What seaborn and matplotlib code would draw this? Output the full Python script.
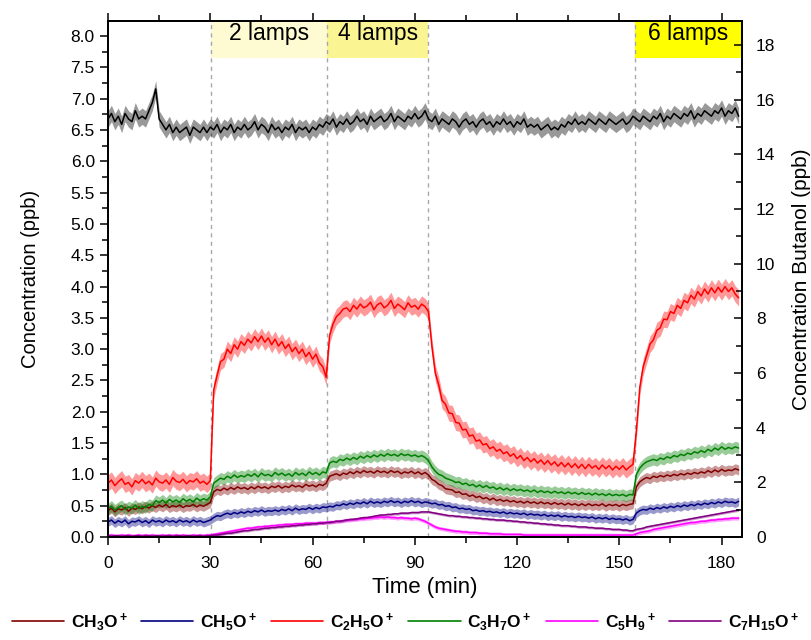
import numpy as np
import matplotlib
matplotlib.use("Agg")
import matplotlib.pyplot as plt
from matplotlib.ticker import MultipleLocator, FormatStrFormatter
import seaborn as sns

# time axis, one reading per minute
time_min = np.arange(0, 186)

# CH3O+ (ppb, left axis)
ch3o = [
    0.42, 0.46, 0.40, 0.45, 0.43, 0.47, 0.41, 0.46, 0.44, 0.48,
    0.45, 0.49, 0.46, 0.50, 0.47, 0.51, 0.48, 0.52, 0.47, 0.50,
    0.48, 0.51, 0.47, 0.50, 0.49, 0.52, 0.48, 0.51, 0.49, 0.52,
    0.55, 0.72, 0.76, 0.74, 0.78, 0.75, 0.79, 0.76, 0.80, 0.77,
    0.79, 0.76, 0.80, 0.77, 0.81, 0.78, 0.80, 0.77, 0.81, 0.79,
    0.82, 0.78, 0.81, 0.79, 0.83, 0.80, 0.82, 0.79, 0.84, 0.81,
    0.83, 0.80, 0.84, 0.82, 0.86, 0.97, 0.99, 1.01, 0.98, 1.02,
    1.00, 1.04, 1.01, 1.05, 1.02, 1.06, 1.03, 1.05, 1.02, 1.06,
    1.03, 1.05, 1.02, 1.06, 1.03, 1.05, 1.01, 1.04, 1.02, 1.05,
    1.01, 1.04, 1.00, 1.03, 0.99, 0.92, 0.89, 0.84, 0.82, 0.77,
    0.76, 0.75, 0.71, 0.72, 0.68, 0.69, 0.65, 0.67, 0.63, 0.65,
    0.61, 0.63, 0.59, 0.62, 0.58, 0.60, 0.57, 0.59, 0.56, 0.58,
    0.55, 0.57, 0.54, 0.57, 0.54, 0.56, 0.53, 0.56, 0.53, 0.55,
    0.52, 0.55, 0.52, 0.54, 0.51, 0.54, 0.51, 0.53, 0.50, 0.53,
    0.50, 0.53, 0.50, 0.52, 0.50, 0.53, 0.49, 0.52, 0.50, 0.52,
    0.49, 0.52, 0.50, 0.52, 0.53, 0.80, 0.88, 0.92, 0.95, 0.93,
    0.97, 0.95, 0.98, 0.96, 0.99, 0.97, 1.00, 0.98, 1.01, 0.99,
    1.02, 1.00, 1.03, 1.01, 1.04, 1.02, 1.06, 1.03, 1.07, 1.04,
    1.08, 1.05, 1.07, 1.06, 1.09, 1.07,
]

# CH5O+
ch5o = [
    0.24, 0.27, 0.22, 0.26, 0.23, 0.27, 0.21, 0.25, 0.24, 0.27,
    0.23, 0.26, 0.22, 0.27, 0.24, 0.26, 0.23, 0.27, 0.24, 0.26,
    0.23, 0.27, 0.24, 0.26, 0.23, 0.27, 0.24, 0.26, 0.23, 0.25,
    0.27, 0.31, 0.34, 0.33, 0.36, 0.38, 0.36, 0.39, 0.37, 0.40,
    0.38, 0.41, 0.39, 0.42, 0.40, 0.43, 0.40, 0.42, 0.41, 0.43,
    0.41, 0.44, 0.42, 0.45, 0.42, 0.46, 0.43, 0.45, 0.44, 0.47,
    0.44, 0.47, 0.45, 0.48, 0.47, 0.49, 0.48, 0.51, 0.50, 0.53,
    0.51, 0.54, 0.52, 0.55, 0.53, 0.56, 0.53, 0.57, 0.54, 0.56,
    0.54, 0.57, 0.55, 0.58, 0.55, 0.57, 0.54, 0.57, 0.55, 0.58,
    0.55, 0.57, 0.54, 0.56, 0.55, 0.53, 0.54, 0.51, 0.52, 0.49,
    0.50, 0.47, 0.48, 0.45, 0.46, 0.44, 0.45, 0.42, 0.43, 0.41,
    0.42, 0.40, 0.41, 0.39, 0.40, 0.38, 0.40, 0.37, 0.39, 0.37,
    0.38, 0.36, 0.38, 0.35, 0.37, 0.35, 0.36, 0.34, 0.36, 0.33,
    0.35, 0.33, 0.35, 0.32, 0.34, 0.32, 0.33, 0.31, 0.33, 0.31,
    0.32, 0.30, 0.32, 0.29, 0.31, 0.29, 0.31, 0.28, 0.30, 0.28,
    0.29, 0.27, 0.29, 0.26, 0.28, 0.38, 0.42, 0.44, 0.43, 0.46,
    0.44, 0.47, 0.45, 0.48, 0.46, 0.49, 0.47, 0.50, 0.48, 0.51,
    0.49, 0.52, 0.50, 0.53, 0.51, 0.54, 0.52, 0.55, 0.53, 0.56,
    0.54, 0.57, 0.55, 0.56, 0.54, 0.57,
]

# C2H5O+
c2h5o = [
    0.86, 0.91, 0.82, 0.88, 0.93, 0.84, 0.87, 0.80, 0.90, 0.86,
    0.92, 0.85, 0.89, 0.83, 0.94, 0.88, 0.86, 0.91, 0.84, 0.95,
    0.89, 0.87, 0.92, 0.85, 0.90, 0.88, 0.93, 0.86, 0.89, 0.84,
    0.90, 2.35, 2.58, 2.80, 2.84, 3.00, 2.93, 3.07, 3.00, 3.12,
    3.06, 3.16, 3.10, 3.20, 3.12, 3.21, 3.11, 3.18, 3.07, 3.16,
    3.05, 3.12, 3.01, 3.08, 2.96, 3.03, 2.93, 3.00, 2.88, 2.95,
    2.84, 2.92, 2.78, 2.72, 2.55, 3.22, 3.40, 3.52, 3.57, 3.64,
    3.66, 3.60, 3.70, 3.64, 3.72, 3.66, 3.69, 3.75, 3.63, 3.71,
    3.74, 3.66, 3.70, 3.78, 3.65, 3.72, 3.68, 3.63, 3.74, 3.67,
    3.70, 3.64, 3.72, 3.68, 3.60, 3.05, 2.62, 2.43, 2.18, 2.12,
    1.98, 1.97, 1.83, 1.82, 1.71, 1.72, 1.61, 1.63, 1.53, 1.55,
    1.47, 1.49, 1.41, 1.44, 1.37, 1.40, 1.33, 1.36, 1.29, 1.33,
    1.25, 1.30, 1.22, 1.27, 1.20, 1.25, 1.18, 1.23, 1.16, 1.22,
    1.15, 1.20, 1.13, 1.19, 1.12, 1.18, 1.11, 1.17, 1.10, 1.16,
    1.09, 1.16, 1.10, 1.14, 1.08, 1.15, 1.09, 1.14, 1.07, 1.13,
    1.08, 1.14, 1.07, 1.12, 1.16, 1.70, 2.39, 2.72, 2.90, 3.08,
    3.15, 3.30, 3.34, 3.48, 3.47, 3.60, 3.57, 3.70, 3.65, 3.78,
    3.74, 3.86, 3.80, 3.92, 3.85, 3.96, 3.88, 3.98, 3.90, 3.99,
    3.91, 4.00, 3.92, 3.98, 3.88, 3.82,
]

# C3H7O+
c3h7o = [
    0.45, 0.49, 0.43, 0.47, 0.50, 0.44, 0.48, 0.46, 0.51, 0.45,
    0.49, 0.47, 0.52, 0.50, 0.58, 0.55, 0.59, 0.54, 0.60, 0.56,
    0.59, 0.55, 0.61, 0.57, 0.60, 0.56, 0.62, 0.58, 0.61, 0.59,
    0.64, 0.86, 0.90, 0.94, 0.92, 0.97, 0.94, 0.99, 0.95, 0.98,
    0.96, 1.00, 0.97, 1.01, 0.96, 1.02, 0.98, 1.00, 0.97, 1.03,
    0.99, 1.02, 0.98, 1.01, 0.97, 1.03, 0.99, 1.02, 0.98, 1.04,
    1.00, 1.03, 0.99, 1.04, 1.02, 1.18, 1.21, 1.19, 1.24, 1.22,
    1.26, 1.23, 1.27, 1.24, 1.29, 1.26, 1.30, 1.27, 1.31, 1.28,
    1.32, 1.29, 1.33, 1.30, 1.32, 1.29, 1.33, 1.30, 1.32, 1.29,
    1.31, 1.28, 1.30, 1.27, 1.22, 1.12, 1.05, 1.00, 0.98, 0.94,
    0.92, 0.90, 0.87, 0.88, 0.84, 0.86, 0.82, 0.84, 0.80, 0.83,
    0.79, 0.82, 0.78, 0.80, 0.76, 0.79, 0.75, 0.78, 0.74, 0.77,
    0.74, 0.76, 0.73, 0.75, 0.72, 0.75, 0.71, 0.74, 0.71, 0.73,
    0.70, 0.73, 0.70, 0.72, 0.69, 0.72, 0.69, 0.71, 0.68, 0.71,
    0.68, 0.70, 0.67, 0.70, 0.67, 0.69, 0.66, 0.69, 0.66, 0.68,
    0.66, 0.68, 0.65, 0.68, 0.67, 1.00, 1.10, 1.16, 1.20, 1.22,
    1.24, 1.22, 1.26, 1.24, 1.28, 1.26, 1.30, 1.28, 1.32, 1.30,
    1.34, 1.32, 1.36, 1.34, 1.38, 1.35, 1.40, 1.37, 1.42, 1.39,
    1.44, 1.40, 1.43, 1.41, 1.44, 1.42,
]

# C5H9+
c5h9 = [
    0.02, 0.03, 0.02, 0.02, 0.03, 0.02, 0.03, 0.02, 0.02, 0.03,
    0.02, 0.03, 0.02, 0.03, 0.02, 0.02, 0.03, 0.02, 0.03, 0.02,
    0.03, 0.02, 0.03, 0.02, 0.02, 0.03, 0.02, 0.03, 0.02, 0.03,
    0.03, 0.04, 0.05, 0.06, 0.07, 0.08, 0.09, 0.10, 0.11, 0.12,
    0.13, 0.14, 0.14, 0.15, 0.16, 0.16, 0.17, 0.17, 0.18, 0.18,
    0.19, 0.19, 0.20, 0.20, 0.20, 0.21, 0.21, 0.21, 0.22, 0.22,
    0.22, 0.22, 0.23, 0.23, 0.23, 0.24, 0.24, 0.25, 0.25, 0.26,
    0.27, 0.27, 0.28, 0.28, 0.29, 0.29, 0.30, 0.30, 0.31, 0.31,
    0.32, 0.31, 0.32, 0.31, 0.31, 0.30, 0.31, 0.30, 0.30, 0.29,
    0.30, 0.29, 0.27, 0.25, 0.22, 0.19, 0.16, 0.14, 0.13, 0.12,
    0.11, 0.10, 0.09, 0.09, 0.08, 0.08, 0.07, 0.07, 0.07, 0.06,
    0.06, 0.06, 0.05, 0.05, 0.05, 0.05, 0.04, 0.04, 0.04, 0.04,
    0.04, 0.04, 0.03, 0.03, 0.03, 0.03, 0.03, 0.03, 0.03, 0.03,
    0.03, 0.03, 0.03, 0.03, 0.03, 0.03, 0.03, 0.03, 0.03, 0.03,
    0.03, 0.03, 0.03, 0.03, 0.03, 0.03, 0.03, 0.03, 0.03, 0.03,
    0.03, 0.03, 0.03, 0.03, 0.03, 0.05, 0.07, 0.08, 0.09, 0.10,
    0.12, 0.13, 0.14, 0.15, 0.16, 0.17, 0.18, 0.19, 0.20, 0.21,
    0.22, 0.23, 0.23, 0.24, 0.25, 0.25, 0.26, 0.27, 0.27, 0.28,
    0.28, 0.29, 0.29, 0.30, 0.30, 0.30,
]

# C7H15O+
c7h15o = [
    0.02, 0.01, 0.02, 0.02, 0.01, 0.02, 0.02, 0.01, 0.02, 0.02,
    0.01, 0.02, 0.02, 0.01, 0.02, 0.02, 0.01, 0.02, 0.02, 0.01,
    0.02, 0.02, 0.01, 0.02, 0.02, 0.01, 0.02, 0.02, 0.01, 0.02,
    0.02, 0.03, 0.03, 0.04, 0.05, 0.06, 0.06, 0.07, 0.08, 0.09,
    0.10, 0.10, 0.11, 0.12, 0.12, 0.13, 0.14, 0.14, 0.15, 0.15,
    0.16, 0.16, 0.17, 0.17, 0.18, 0.18, 0.19, 0.19, 0.20, 0.20,
    0.21, 0.21, 0.22, 0.22, 0.23, 0.23, 0.24, 0.25, 0.25, 0.26,
    0.27, 0.28, 0.28, 0.29, 0.30, 0.31, 0.31, 0.32, 0.33, 0.34,
    0.35, 0.35, 0.36, 0.36, 0.37, 0.37, 0.38, 0.38, 0.38, 0.39,
    0.39, 0.39, 0.40, 0.40, 0.40, 0.39, 0.38, 0.37, 0.36, 0.35,
    0.34, 0.34, 0.33, 0.33, 0.32, 0.32, 0.31, 0.31, 0.30, 0.30,
    0.29, 0.29, 0.28, 0.28, 0.27, 0.27, 0.27, 0.26, 0.26, 0.25,
    0.25, 0.24, 0.24, 0.23, 0.23, 0.22, 0.22, 0.21, 0.21, 0.20,
    0.20, 0.19, 0.19, 0.18, 0.18, 0.18, 0.17, 0.17, 0.16, 0.16,
    0.16, 0.15, 0.15, 0.14, 0.14, 0.14, 0.13, 0.13, 0.12, 0.12,
    0.12, 0.11, 0.11, 0.10, 0.10, 0.12, 0.13, 0.14, 0.16, 0.17,
    0.18, 0.19, 0.20, 0.21, 0.22, 0.23, 0.24, 0.25, 0.26, 0.27,
    0.28, 0.29, 0.30, 0.31, 0.32, 0.33, 0.34, 0.35, 0.36, 0.37,
    0.38, 0.39, 0.40, 0.41, 0.42, 0.43,
]

# butanol (ppb, right axis)
butanol = [
    15.3, 15.5, 15.2, 15.4, 15.1, 15.5, 15.3, 15.2, 15.6, 15.3,
    15.4, 15.3, 15.6, 15.9, 16.4, 15.3, 15.1, 14.9, 15.1, 14.8,
    15.0, 14.8, 14.9, 15.0, 14.7, 15.0, 14.9, 14.8, 15.0, 14.8,
    15.0, 14.9, 15.1, 14.8, 15.0, 14.9, 15.1, 14.8, 15.0, 14.9,
    15.1, 14.9, 15.0, 15.2, 14.9, 15.1, 15.0, 14.8, 15.1, 14.9,
    15.0, 14.8, 15.0, 14.9, 15.1, 14.8, 15.0, 14.9, 15.0, 14.8,
    15.0, 14.9, 15.1, 15.0, 15.2, 15.1, 15.3, 15.0, 15.2, 15.1,
    15.3, 15.1, 15.2, 15.4, 15.2, 15.3, 15.1, 15.4, 15.2, 15.3,
    15.4, 15.2, 15.3, 15.5, 15.2, 15.4, 15.3, 15.2, 15.4, 15.3,
    15.5, 15.3, 15.4, 15.6, 15.3, 15.2, 15.4, 15.1, 15.3, 15.2,
    15.1, 15.3, 15.2, 15.0, 15.2, 15.3, 15.1, 15.2, 15.0, 15.2,
    15.3, 15.1, 15.2, 15.0, 15.2, 15.1, 15.3, 15.1, 15.2, 15.0,
    15.2, 15.1, 15.3, 15.0, 15.1, 15.0, 15.1, 14.9, 15.0, 15.1,
    14.9, 15.0, 14.9, 15.1, 15.0, 15.2, 15.1, 15.3, 15.1, 15.2,
    15.1, 15.3, 15.2, 15.1, 15.3, 15.2, 15.1, 15.3, 15.2, 15.1,
    15.2, 15.3, 15.1, 15.2, 15.4, 15.3, 15.2, 15.4, 15.3, 15.2,
    15.4, 15.3, 15.5, 15.2, 15.4, 15.3, 15.5, 15.4, 15.3, 15.5,
    15.4, 15.6, 15.3, 15.5, 15.4, 15.6, 15.5, 15.4, 15.6, 15.5,
    15.7, 15.4, 15.6, 15.5, 15.7, 15.4,
]

# approximate scatter (half-width of the noisy trace)
series_labels = [r"CH$_3$O$^+$", r"CH$_5$O$^+$", r"C$_2$H$_5$O$^+$",
                 r"C$_3$H$_7$O$^+$", r"C$_5$H$_9$$^+$", r"C$_7$H$_{15}$O$^+$"]
series_values = [ch3o, ch5o, c2h5o, c3h7o, c5h9, c7h15o]
series_spread = [0.08, 0.07, 0.13, 0.09, 0.03, 0.02]
butanol_spread = 0.3

# lamp periods (min)
lamp_labels = ["2 lamps", "4 lamps", "6 lamps"]
lamp_start = [30.2, 64.3, 154.6]
lamp_end = [64.3, 93.9, 186.0]
switch_times = [30.2, 64.3, 93.9, 154.6]

colors = ["#800000", "#000080", "#ff0000", "#008000", "#ff00ff", "#800080"]
lamp_colors = ["#fefbd2", "#faf592", "#ffff00"]

sns.set_theme(style="ticks")
plt.rcParams["font.family"] = ["Liberation Sans", "DejaVu Sans"]
plt.rcParams["mathtext.fontset"] = "custom"
plt.rcParams["mathtext.rm"] = "Liberation Sans:bold"
plt.rcParams["mathtext.it"] = "Liberation Sans:bold"
plt.rcParams["mathtext.bf"] = "Liberation Sans:bold"
for key in ("text.color", "axes.labelcolor", "xtick.color", "ytick.color", "axes.edgecolor"):
    plt.rcParams[key] = "black"

fig = plt.figure(figsize=(8.11, 6.40), dpi=100)
ax = fig.add_axes([0.1332, 0.161, 0.7818, 0.806])
ax2 = ax.twinx()

ax.set_xlim(0, 186)
ax.set_ylim(0, 8.24)
ax2.set_ylim(0, 18.88)

# lamp boxes and switch markers
for lab, x0, x1, c in zip(lamp_labels, lamp_start, lamp_end, lamp_colors):
    ax.axvspan(x0, x1, ymin=0.928, ymax=1.0, color=c, lw=0, zorder=0)
    ax.text((x0 + x1) / 2, 8.04, lab, ha="center", va="center", fontsize=16.5, zorder=1)
for xs in switch_times:
    ax.axvline(xs, color="#a8a8a8", lw=1.0, ls=(0, (3, 3)), zorder=0.5)

handles = []
for lab, vals, sp, c in zip(series_labels, series_values, series_spread, colors):
    v = np.asarray(vals)
    ax.fill_between(time_min, v - sp, v + sp, color=c, alpha=0.4, lw=0, zorder=2)
    sns.lineplot(x=time_min, y=v, ax=ax, color=c, lw=1.1, zorder=3)
    handles.append(plt.Line2D([], [], color=c, lw=1.2, label=lab))

b = np.asarray(butanol)
ax2.fill_between(time_min, b - butanol_spread, b + butanol_spread, color="black", alpha=0.4, lw=0)
sns.lineplot(x=time_min, y=b, ax=ax2, color="black", lw=1.1)

ax.set_xlabel("Time (min)", fontsize=16, labelpad=4)
ax.set_ylabel("Concentration (ppb)", fontsize=14.5, labelpad=22)
ax2.set_ylabel("Concentration Butanol (ppb)", fontsize=15, labelpad=12)

ax.xaxis.set_major_locator(MultipleLocator(30))
ax.xaxis.set_minor_locator(MultipleLocator(15))
ax.yaxis.set_major_locator(MultipleLocator(0.5))
ax.yaxis.set_minor_locator(MultipleLocator(0.25))
ax.yaxis.set_major_formatter(FormatStrFormatter("%.1f"))
ax2.yaxis.set_major_locator(MultipleLocator(2))
ax2.yaxis.set_minor_locator(MultipleLocator(1))

ax.tick_params(axis="x", which="both", direction="out", top=True, labelsize=12.5, width=1.1)
ax.tick_params(axis="x", which="major", length=6, pad=8)
ax.tick_params(axis="x", which="minor", length=4)
ax.tick_params(axis="y", which="both", direction="out", right=False, labelsize=12.5, width=1.1)
ax.tick_params(axis="y", which="major", length=6)
ax.tick_params(axis="y", which="minor", length=4)
ax2.tick_params(axis="y", which="both", direction="in", labelsize=12.5, width=1.1)
ax2.tick_params(axis="y", which="major", length=6, pad=10)
ax2.tick_params(axis="y", which="minor", length=4)

for a in (ax, ax2):
    for s in a.spines.values():
        s.set_linewidth(1.3)
        s.set_color("black")
        s.set_visible(True)

fig.legend(handles=handles, loc="center", bbox_to_anchor=(0.5, 0.028), ncol=6,
           frameon=False, handlelength=3.0, handletextpad=0.4, columnspacing=0.8,
           prop={"size": 12.5, "weight": "bold"})

fig.savefig("out.png", dpi=100)
